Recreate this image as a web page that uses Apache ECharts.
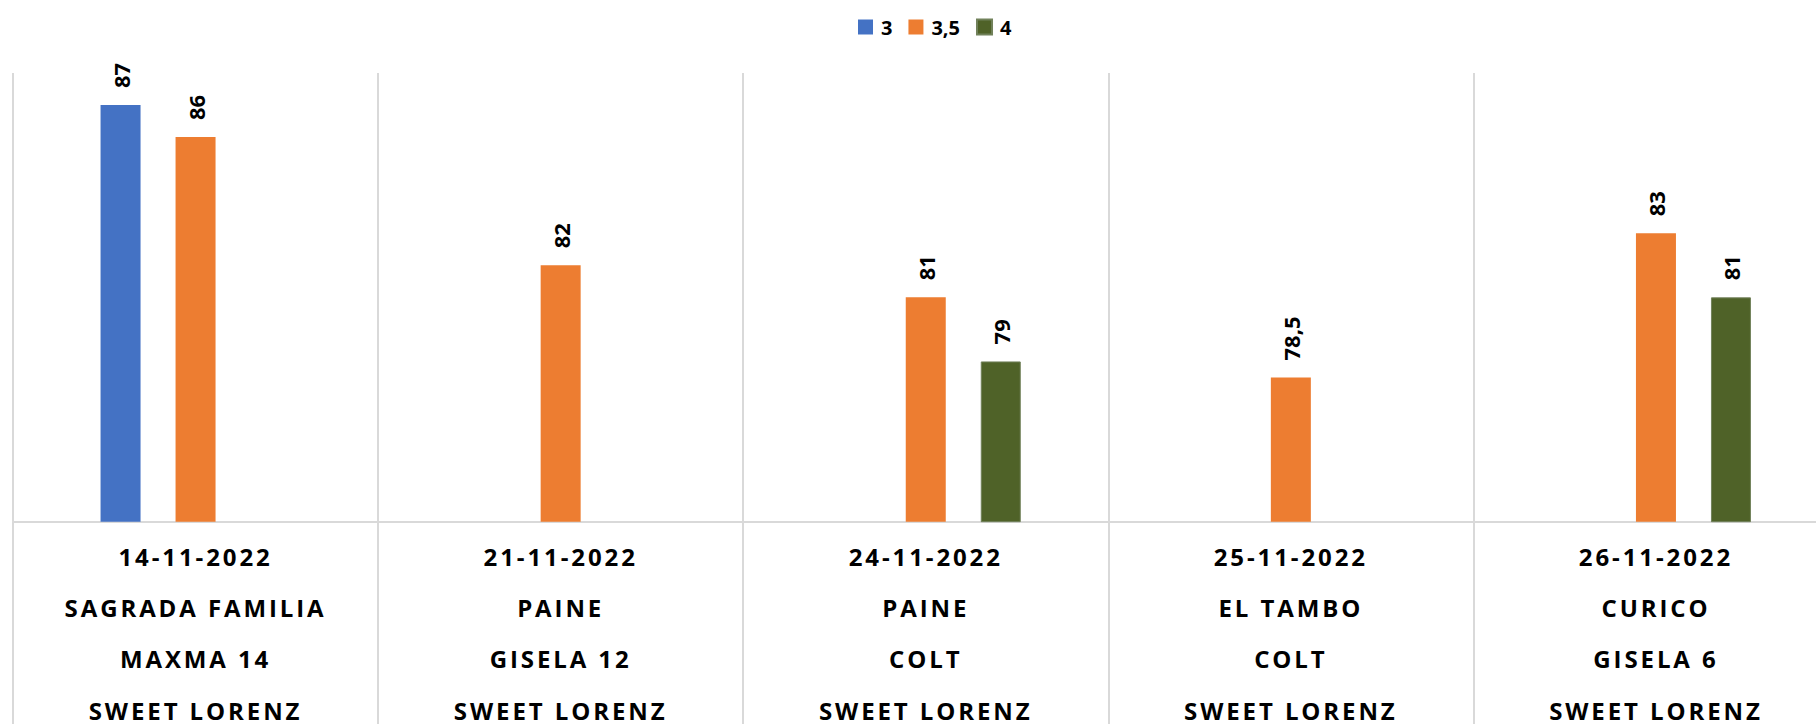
<!DOCTYPE html>
<html>
<head>
    <meta charset="utf-8">
    <script src="https://cdn.jsdelivr.net/npm/echarts@6/dist/echarts.min.js"></script>
    <style type="text/css">
        html, body {margin: 0; padding: 0; background: #fff;}
        #chart {width: 1816px; height: 724px;}
        /* category labels are the only 24px texts: give them the wide tracking of the original */
        #chart text[style*="24px"] {letter-spacing: 2.9px;}
    </style>
</head>
<body>
<div id="chart"></div>
<script>

let dates = ['14-11-2022', '21-11-2022', '24-11-2022', '25-11-2022', '26-11-2022'];
let zones = ['SAGRADA FAMILIA', 'PAINE', 'PAINE', 'EL TAMBO', 'CURICO'];
let rootstocks = ['MAXMA 14', 'GISELA 12', 'COLT', 'COLT', 'GISELA 6'];
let varieties = ['SWEET LORENZ', 'SWEET LORENZ', 'SWEET LORENZ', 'SWEET LORENZ', 'SWEET LORENZ'];

let seriesNames = ['3', '3,5', '4'];
let values3 = [87, null, null, null, null];
let values35 = [86, 82, 81, 78.5, 83];
let values4 = [null, null, 79, null, 81];

let colors = ['#4472c4', '#ed7d31', '#4f6228'];

let categories = dates.map((d, i) => [d, zones[i], rootstocks[i], varieties[i]].join('\n'));

let chart = echarts.init(document.getElementById('chart'), null, {renderer: 'svg'});

let barLabel = {
    show: true,
    position: 'top',
    rotate: 90,
    align: 'left',
    verticalAlign: 'middle',
    distance: 17,
    fontFamily: 'Open Sans',
    fontWeight: 'bold',
    fontSize: 22,
    color: '#000',
    formatter: p => String(p.value).replace('.', ',')
};

let gridColor = '#d9d9d9';

let option = {
    animation: false,
    color: colors,
    legend: {
        data: seriesNames,
        left: 853,
        top: 12,
        icon: 'rect',
        itemWidth: 15,
        itemHeight: 15,
        itemGap: 16,
        textStyle: {
            fontFamily: 'Open Sans',
            fontWeight: 'bold',
            fontSize: 20,
            color: '#000',
            padding: [0, 0, 0, 3]
        }
    },
    grid: {
        left: 13,
        right: -22.5,
        top: 73,
        bottom: 202.3,
        outerBoundsMode: 'none'
    },
    xAxis: {
        type: 'category',
        data: categories,
        axisLine: {lineStyle: {color: gridColor, width: 2}},
        axisTick: {show: true, interval: 0, length: 205, lineStyle: {color: gridColor, width: 2}},
        splitLine: {show: true, interval: 0, lineStyle: {color: gridColor, width: 2}},
        axisLabel: {
            interval: 0,
            margin: 9,
            fontFamily: 'Open Sans',
            fontWeight: 'bold',
            fontSize: 24,
            lineHeight: 51.3,
            color: '#000'
        }
    },
    yAxis: {
        type: 'value',
        min: 74,
        max: 88,
        show: false
    },
    series: [
        {name: seriesNames[0], type: 'bar', data: values3, barWidth: 40, barGap: '87.5%', label: barLabel},
        {name: seriesNames[1], type: 'bar', data: values35, barWidth: 40, barGap: '87.5%', label: barLabel},
        {name: seriesNames[2], type: 'bar', data: values4, barWidth: 40, barGap: '87.5%', label: barLabel,
            itemStyle: {borderColor: '#71815a', borderWidth: 1}}
    ]
};

chart.setOption(option);

</script>
</body>
</html>
